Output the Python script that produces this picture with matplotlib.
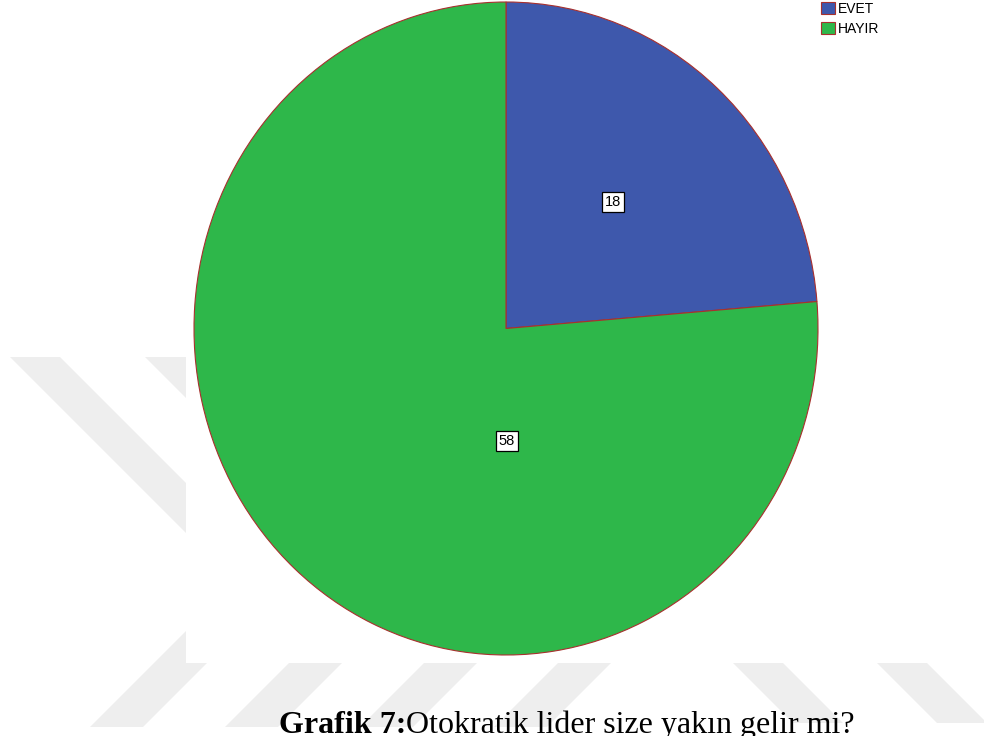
import matplotlib
matplotlib.use("Agg")
import matplotlib.pyplot as plt
from matplotlib.patches import Polygon, Rectangle

# answers to "Otokratik lider size yakın gelir mi?"
categories = ["EVET", "HAYIR"]
counts = [18, 58]
colors = ["#3E58AC", "#2EB74A"]
edge = "#A8302E"

# where SPSS puts the count boxes (pie radius = 1)
label_pos = [(0.343, 0.387), (0.003, -0.345)]

W, H = 984, 736
fig = plt.figure(figsize=(W / 100, H / 100), dpi=100)

# page background: faint watermark bands behind the chart image
bg = fig.add_axes([0, 0, 1, 1], zorder=0)
bg.set_xlim(0, W)
bg.set_ylim(H, 0)
bg.axis("off")
band = "#EEEEEE"


def back_band(x0, top, width, depth):
    # "\" shaped band, 45 degrees
    return [(x0, top), (x0 + width, top), (x0 + width + depth, top + depth), (x0 + depth, top + depth)]


def fwd_band(x0, bottom, width, depth):
    # "/" shaped band, 45 degrees
    return [(x0, bottom), (x0 + width, bottom), (x0 + width + depth, bottom - depth), (x0 + depth, bottom - depth)]


for x0 in [10, 145]:
    bg.add_patch(Polygon(back_band(x0, 357, 50, 250), closed=True, color=band, lw=0))
for x0 in [90, 225, 360, 494]:
    bg.add_patch(Polygon(fwd_band(x0, 727, 53, 127), closed=True, color=band, lw=0))
for x0 in [670, 814]:
    bg.add_patch(Polygon(back_band(x0, 600, 50, 123), closed=True, color=band, lw=0))
bg.add_patch(Rectangle((186, 0), W - 186, 663, color="white", lw=0))

# the pie itself
ax = fig.add_axes([194 / W, (H - 655) / H, 624 / W, 653 / H], zorder=2)
total = sum(counts)
wedges, _, autotexts = ax.pie(
    counts,
    colors=colors,
    startangle=90,
    counterclock=False,
    autopct=lambda p: f"{p * total / 100:.0f}",
    wedgeprops=dict(edgecolor=edge, linewidth=0.8),
    textprops=dict(fontsize=10.5, family="Liberation Sans", color="black"),
)
for t, pos in zip(autotexts, label_pos):
    t.set_position(pos)
    t.set_bbox(dict(boxstyle="square,pad=0.2", facecolor="white", edgecolor="black", linewidth=0.9))
ax.set_aspect("auto")
ax.set_xlim(-1, 1)
ax.set_ylim(-1, 1)
ax.axis("off")

fig.legend(
    wedges, categories,
    loc="upper left", bbox_to_anchor=(821 / W, 1 - 2 / H),
    frameon=False, borderpad=0, borderaxespad=0,
    handlelength=1.0, handleheight=1.0, handletextpad=0.25, labelspacing=0.4,
    prop=dict(family="Liberation Sans", size=10),
)

# caption under the figure, bold number then plain question
cap = fig.text(279 / W, 3 / H, "Grafik 7:", family="Liberation Serif", weight="bold",
               fontsize=23, va="baseline", ha="left", zorder=3)
ax.annotate("Otokratik lider size yakın gelir mi?", xy=(1, 0), xycoords=cap,
            va="bottom", ha="left", family="Liberation Serif", fontsize=23,
            annotation_clip=False)

fig.savefig("out.png", dpi=100)
